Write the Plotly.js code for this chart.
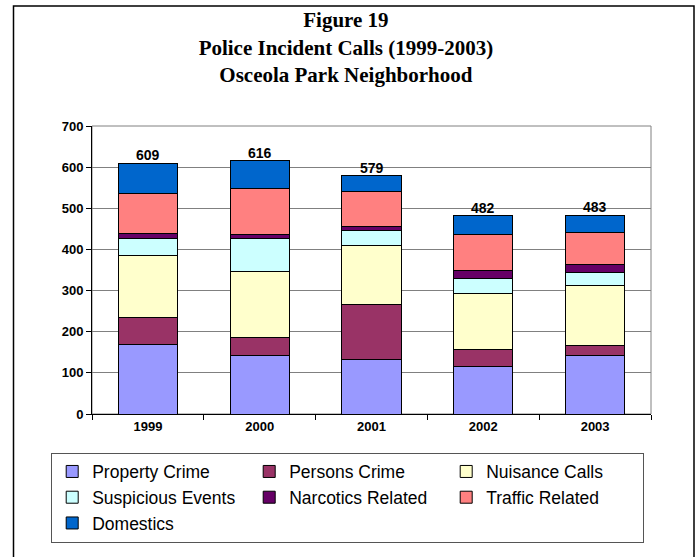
<!DOCTYPE html>
<html>
<head>
<meta charset="utf-8">
<script src="https://cdn.plot.ly/plotly-3.0.1.min.js"></script>
<style>
  html, body { margin: 0; padding: 0; background: #ffffff; }
  #chart { width: 696px; height: 557px; }
</style>
</head>
<body>
<div id="chart"></div>
<script>
// Police incident calls per year, by call type
var years = ['1999', '2000', '2001', '2002', '2003'];

var propertyCrime    = [168, 142, 133, 115, 142];
var personsCrime     = [66, 44, 134, 41, 25];
var nuisanceCalls    = [152, 160, 143, 137, 146];
var suspiciousEvents = [41, 81, 36, 36, 31];
var narcoticsRelated = [12, 10, 9, 19, 20];
var trafficRelated   = [97, 111, 85, 88, 77];
var domestics        = [73, 68, 39, 46, 42];

var seriesNames = ['Property Crime', 'Persons Crime', 'Nuisance Calls',
                   'Suspicious Events', 'Narcotics Related', 'Traffic Related', 'Domestics'];
var seriesValues = [propertyCrime, personsCrime, nuisanceCalls,
                    suspiciousEvents, narcoticsRelated, trafficRelated, domestics];
var seriesColors = ['#9999FF', '#993366', '#FFFFCC', '#CCFFFF', '#660066', '#FF8080', '#0066CC'];

var traces = seriesNames.map(function (name, i) {
  return {
    type: 'bar',
    name: name,
    x: years,
    y: seriesValues[i],
    marker: { color: seriesColors[i], line: { color: '#000000', width: 1 } },
    hoverinfo: 'name+y'
  };
});

// Yearly totals, written above each stacked column
var totals = years.map(function (_, j) {
  return seriesValues.reduce(function (s, arr) { return s + arr[j]; }, 0);
});
// category axis: annotation x is the category index
var totalLabels = years.map(function (yr, j) {
  return {
    x: j, y: totals[j], xref: 'x', yref: 'y',
    text: '<b>' + totals[j] + '</b>',
    showarrow: false, yanchor: 'bottom', yshift: -2,
    font: { family: 'Liberation Sans, Arial, sans-serif', size: 14, color: '#000000' }
  };
});

var axisFont = { family: 'Liberation Sans, Arial, sans-serif', size: 13, color: '#000000', weight: 'bold' };

var layout = {
  width: 696,
  height: 557,
  margin: { l: 92, r: 45, t: 126, b: 143, autoexpand: false },
  paper_bgcolor: '#ffffff',
  plot_bgcolor: '#ffffff',
  barmode: 'stack',
  bargap: 0.47,
  showlegend: true,
  title: {
    text: '<b>Figure 19<br>Police Incident Calls (1999-2003)<br>Osceola Park Neighborhood</b>',
    x: 0.497, xanchor: 'center',
    y: 0.951, yanchor: 'top',
    font: { family: 'Liberation Serif, Times New Roman, serif', size: 21, color: '#000000' }
  },
  xaxis: {
    type: 'category',
    range: [-0.5, 4.5],
    showline: true, linecolor: '#000000', linewidth: 1,
    ticks: 'outside', tickson: 'boundaries', ticklen: 5, tickcolor: '#000000',
    tickfont: axisFont,
    showgrid: false, zeroline: false
  },
  yaxis: {
    range: [0, 700],
    tickmode: 'array',
    tickvals: [0, 100, 200, 300, 400, 500, 600, 700],
    ticktext: ['0', '100', '200', '300', '400', '500', '600', '700'],
    showline: true, linecolor: '#000000', linewidth: 1,
    ticks: 'outside', ticklen: 5, tickcolor: '#000000',
    tickfont: axisFont,
    showgrid: true, gridcolor: '#808080', gridwidth: 1,
    zeroline: false
  },
  legend: {
    orientation: 'h',
    x: -0.073, xanchor: 'left',
    y: -0.134, yanchor: 'top',
    entrywidth: 152,
    traceorder: 'normal',
    bgcolor: '#ffffff',
    bordercolor: '#555555',
    borderwidth: 1,
    font: { family: 'Liberation Sans, Arial, sans-serif', size: 17.5, color: '#000000' }
  },
  annotations: totalLabels,
  shapes: [
    // plot-area frame (top and right edges show in grey)
    { type: 'rect', xref: 'paper', yref: 'paper', x0: 0, x1: 1, y0: 0, y1: 1,
      line: { color: '#808080', width: 1 }, layer: 'below' },
    // outer border around the whole figure
    { type: 'rect', xref: 'paper', yref: 'paper',
      x0: (13.5 - 92) / 559, x1: (694 - 92) / 559,
      y0: -(570 - 414) / 288, y1: (414 - 6) / 288,
      line: { color: '#000000', width: 1.5 } }
  ]
};

Plotly.newPlot('chart', traces, layout, { displayModeBar: false, staticPlot: true });
</script>
</body>
</html>
